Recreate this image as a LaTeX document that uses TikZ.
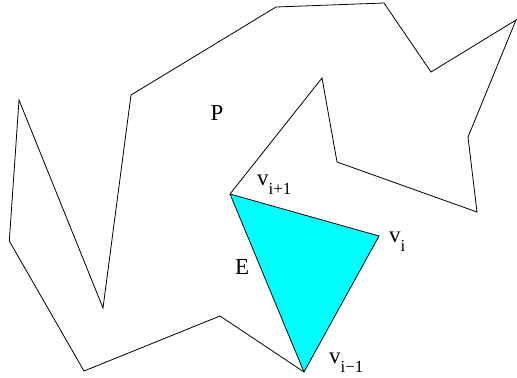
\documentclass[tikz,border=0pt]{standalone}
\usepackage{fontspec}
\setmainfont{Liberation Serif}
\definecolor{aqua}{RGB}{0,255,255}
\newcommand{\vlab}[1]{v\raisebox{-9bp}{\fontsize{17}{19}\selectfont #1}}
\tikzset{
  edge/.style={draw=black, line width=0.8bp, line join=miter},
  lab/.style={inner sep=0pt, font=\fontsize{23}{26}\selectfont},
}
\begin{document}
\begin{tikzpicture}[x=1bp,y=-1bp]
\useasboundingbox (0,0) rectangle (517,377);
\coordinate (a1) at (9.3,241);
\coordinate (a2) at (19,100);
\coordinate (a3) at (103,308);
\coordinate (a4) at (131,95);
\coordinate (a5) at (276,7);
\coordinate (a6) at (384,3);
\coordinate (a7) at (431,72);
\coordinate (a8) at (516,20);
\coordinate (a9) at (468,137);
\coordinate (a10) at (477,212);
\coordinate (a11) at (337,162);
\coordinate (a12) at (322,78);
\coordinate (vp) at (230,194);
\coordinate (vi) at (379,236);
\coordinate (vm) at (304,372);
\coordinate (a16) at (220,316);
\coordinate (a17) at (84,371);
\fill[aqua] (vp) -- (vi) -- (vm) -- cycle;
\draw[edge] (vp) -- (vm);
\draw[edge] (a1) -- (a2) -- (a3) -- (a4) -- (a5) -- (a6) -- (a7) -- (a8) -- (a9) -- (a10) -- (a11) -- (a12) -- (vp) -- (vi) -- (vm) -- (a16) -- (a17) -- cycle;
\node[lab, anchor=base] (P) at (217,120) {P};
\node[lab, anchor=base west] (E) at (235,274) {E};
\node[lab, anchor=base west] (lvp) at (257,185) {\vlab{i+1}};
\node[lab, anchor=base west] (lvi) at (389,242) {\vlab{i}};
\node[lab, anchor=base west] (lvm) at (329,363) {\vlab{i−1}};
\end{tikzpicture}
\end{document}
